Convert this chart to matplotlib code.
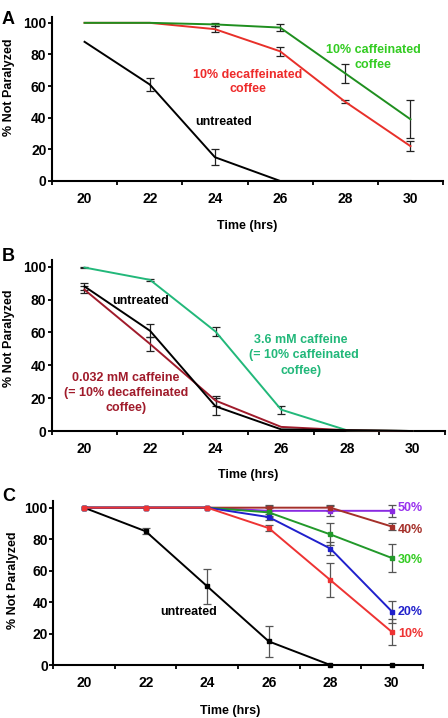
import matplotlib.pyplot as plt
import numpy as np

plt.rcParams['font.family'] = ['Liberation Sans', 'DejaVu Sans']
plt.rcParams['font.weight'] = 'bold'

hours = [20, 22, 24, 26, 28, 30]
odd_hours = [19, 21, 23, 25, 27, 29, 31]
y_ticks = [0, 20, 40, 60, 80, 100]

# panel A
a_untreated = [88, 61, 15, 0, 0, 0]
a_untreated_err = [0, 4, 5, 0, 0, 0]
a_decaf = [100, 100, 96, 82, 50, 22]
a_decaf_err = [0, 0, 2, 3, 1, 3]
a_caf = [100, 100, 99, 97, 68, 39]
a_caf_err = [0, 0, 1, 2, 6, 12]

# panel B
b_untreated = [88, 61, 15, 1, 0.5, 0]
b_untreated_err = [2, 4, 5, 0, 0, 0]
b_low = [86, 53, 18.5, 2.5, 0.5, 0]
b_low_err = [2, 4, 3, 0, 0, 0]
b_high = [99.5, 92, 60.5, 13, 0.5, 0]
b_high_err = [0.5, 0.5, 2.5, 2.5, 0, 0]

# panel C
c_untreated = [100, 85, 50, 15, 0, 0]
c_untreated_err = [0, 2, 11, 10, 0, 0]
c_50 = [100, 100, 100, 98, 98, 98]
c_50_err = [0, 0, 0, 3, 3, 4]
c_40 = [100, 100, 100, 100, 100, 88]
c_40_err = [0, 0, 0, 2, 2, 2]
c_30 = [100, 100, 100, 97, 83, 68]
c_30_err = [0, 0, 0, 3, 7, 9]
c_20 = [100, 100, 100, 94, 74, 34]
c_20_err = [0, 0, 0, 2, 4, 7]
c_10 = [100, 100, 100, 87, 54, 21]
c_10_err = [0, 0, 0, 2, 11, 8]
c_labels = ['50%', '40%', '30%', '20%', '10%']
c_label_y = [100, 86, 67, 34, 19.5]


def draw_series(ax, y, err, color, ecolor, marker=None):
    x = np.array(hours)
    y = np.array(y, dtype=float)
    err = np.array(err, dtype=float)
    ax.plot(x, y, color=color, lw=1.4, marker=marker, ms=3, zorder=3,
            clip_on=False)
    m = err > 0
    ax.errorbar(x[m], y[m], yerr=err[m], fmt='none', ecolor=ecolor,
                elinewidth=0.9, capsize=2.8, capthick=0.9, zorder=2)


def style_axes(ax, label_y, xlabel_y, xlabel_x=0.5):
    ax.set_xlim(19, 31)
    ax.set_ylim(0, 104)
    for s in ['top', 'right']:
        ax.spines[s].set_visible(False)
    for s in ['left', 'bottom']:
        ax.spines[s].set_linewidth(1.5)
    ax.set_xticks(hours)
    ax.set_xticks(odd_hours, minor=True)
    ax.set_yticks(y_ticks)
    ax.tick_params(axis='x', which='major', length=0, pad=8, labelsize=10)
    ax.tick_params(axis='x', which='minor', length=3, width=1.3, direction='out')
    ax.tick_params(axis='y', length=3, width=1.3, pad=1, labelsize=10)
    for t in ax.get_xticklabels() + ax.get_yticklabels():
        t.set_fontweight('bold')
    ax.set_ylabel('% Not Paralyzed', fontsize=9, fontweight='bold')
    ax.yaxis.set_label_coords(-0.094, label_y)
    ax.set_xlabel('Time (hrs)', fontsize=9, fontweight='bold')
    ax.xaxis.set_label_coords(xlabel_x, xlabel_y)


fig = plt.figure(figsize=(4.48, 7.18), dpi=100)

# ---- A
ax1 = fig.add_axes([0.116, 0.748, 0.873, 0.229])
draw_series(ax1, a_untreated, a_untreated_err, 'black', '#222222')
draw_series(ax1, a_decaf, a_decaf_err, '#e8302a', '#222222')
draw_series(ax1, a_caf, a_caf_err, '#1f8f1f', '#222222')
style_axes(ax1, 0.57, -0.24)
ax1.text(28.85, 78, '10% caffeinated\ncoffee', color='#33cc22', fontsize=9,
         fontweight='bold', ha='center', va='center', linespacing=1.25)
ax1.text(25.0, 62.5, '10% decaffeinated\ncoffee', color='#ee2a2a', fontsize=9,
         fontweight='bold', ha='center', va='center', linespacing=1.25)
ax1.text(24.27, 37, 'untreated', color='black', fontsize=9,
         fontweight='bold', ha='center', va='center')
fig.text(0.004, 0.985, 'A', fontsize=13, fontweight='bold', va='top')

# ---- B
ax2 = fig.add_axes([0.1154, 0.3997, 0.878, 0.238])
draw_series(ax2, b_high, b_high_err, '#22b87a', '#222222')
draw_series(ax2, b_low, b_low_err, '#a01b2b', '#222222')
draw_series(ax2, b_untreated, b_untreated_err, 'black', '#222222')
style_axes(ax2, 0.54, -0.22)
ax2.text(21.72, 79, 'untreated', color='black', fontsize=9,
         fontweight='bold', ha='center', va='center')
ax2.text(26.6, 46, '3.6 mM caffeine\n  (= 10% caffeinated\ncoffee)',
         color='#22b87a', fontsize=9, fontweight='bold', ha='center',
         va='center', linespacing=1.35)
ax2.text(21.27, 23, '0.032 mM caffeine\n(= 10% decaffeinated\ncoffee)',
         color='#a01b2b', fontsize=9, fontweight='bold', ha='center',
         va='center', linespacing=1.35)
fig.text(0.004, 0.655, 'B', fontsize=13, fontweight='bold', va='top')

# ---- C
ax3 = fig.add_axes([0.119, 0.0738, 0.8245, 0.2279])
grey = '#555555'
draw_series(ax3, c_untreated, c_untreated_err, 'black', grey, marker='s')
draw_series(ax3, c_50, c_50_err, '#8a2be2', grey, marker='s')
draw_series(ax3, c_40, c_40_err, '#a5302a', grey, marker='s')
draw_series(ax3, c_30, c_30_err, '#22992a', grey, marker='s')
draw_series(ax3, c_20, c_20_err, '#2020cc', grey, marker='s')
draw_series(ax3, c_10, c_10_err, '#ee3333', grey, marker='s')
style_axes(ax3, 0.52, -0.245, 0.48)
ax3.text(23.4, 34, 'untreated', color='black', fontsize=9,
         fontweight='bold', ha='center', va='center')
label_colors = ['#9933ee', '#a5302a', '#33cc22', '#2222cc', '#ee3333']
for lab, yy, col in zip(c_labels, c_label_y, label_colors):
    ax3.text(30.2, yy, lab, color=col, fontsize=9, fontweight='bold',
             ha='left', va='center')
fig.text(0.004, 0.32, 'C', fontsize=13, fontweight='bold', va='top')

fig.savefig('out.png', dpi=100)
